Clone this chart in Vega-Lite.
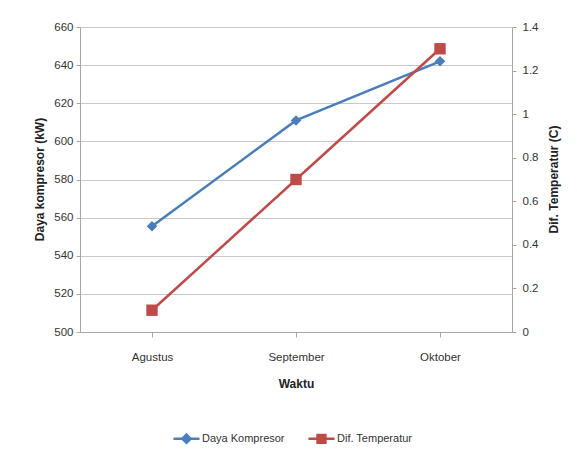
{
  "$schema": "https://vega.github.io/schema/vega-lite/v6.json",
  "width": 432,
  "height": 305,
  "autosize": "none",
  "padding": {"left": 80, "top": 27, "right": 65, "bottom": 128},
  "background": "white",
  "config": {
    "view": {"stroke": null},
    "font": "Liberation Sans, sans-serif",
    "axis": {
      "labelFont": "Liberation Sans, sans-serif",
      "titleFont": "Liberation Sans, sans-serif",
      "labelFontSize": 11.5,
      "labelColor": "#333333",
      "titleFontSize": 12,
      "titleFontWeight": "bold",
      "titleColor": "#222222",
      "domainColor": "#a6a6a6",
      "tickColor": "#a6a6a6",
      "gridColor": "#c8c8c8",
      "tickSize": 4
    },
    "legend": {
      "labelFont": "Liberation Sans, sans-serif",
      "labelFontSize": 11,
      "labelColor": "#333333"
    }
  },
  "data": {
    "values": [
      {"Waktu": "Agustus", "seri": "Daya Kompresor", "nilai": 555.5},
      {"Waktu": "September", "seri": "Daya Kompresor", "nilai": 611},
      {"Waktu": "Oktober", "seri": "Daya Kompresor", "nilai": 642},
      {"Waktu": "Agustus", "seri": "Dif. Temperatur", "nilai": 0.1},
      {"Waktu": "September", "seri": "Dif. Temperatur", "nilai": 0.7},
      {"Waktu": "Oktober", "seri": "Dif. Temperatur", "nilai": 1.3}
    ]
  },
  "encoding": {
    "x": {
      "field": "Waktu",
      "type": "nominal",
      "sort": ["Agustus", "September", "Oktober"],
      "scale": {"paddingInner": 0, "paddingOuter": 0},
      "axis": {
        "title": "Waktu",
        "labelAngle": 0,
        "bandPosition": 0,
        "tickSize": 5,
        "labelPadding": 14,
        "titleY": 51,
        "titleBaseline": "middle",
        "grid": false
      }
    },
    "color": {
      "field": "seri",
      "type": "nominal",
      "scale": {"domain": ["Daya Kompresor", "Dif. Temperatur"], "range": ["#4a7ebb", "#be4b48"]},
      "legend": {
        "title": null,
        "orient": "none",
        "direction": "horizontal",
        "legendX": 92,
        "legendY": 397,
        "symbolSize": 676,
        "columnPadding": 18,
        "labelOffset": 1,
        "encode": {
          "symbols": {
            "update": {
              "shape": {"signal": "datum.value === 'Daya Kompresor' ? 'M-1,0H1M0,-0.32L0.32,0L0,0.32L-0.32,0Z' : 'M-1,0H1M-0.3,-0.3H0.3V0.3H-0.3Z'"},
              "fill": {"scale": "color", "field": "value"},
              "stroke": {"scale": "color", "field": "value"},
              "strokeWidth": {"value": 2.5},
              "fillOpacity": {"value": 1}
            }
          }
        }
      }
    }
  },
  "layer": [
    {
      "transform": [{"filter": "datum.seri === 'Daya Kompresor'"}],
      "encoding": {
        "y": {
          "field": "nilai",
          "type": "quantitative",
          "scale": {"domain": [500, 660], "nice": false, "zero": false},
          "axis": {
            "title": "Daya kompresor (kW)",
            "values": [500, 520, 540, 560, 580, 600, 620, 640, 660],
            "labelPadding": 3,
            "titleX": -41,
            "titleY": 152,
            "titleAngle": 270,
            "titleAlign": "center",
            "titleBaseline": "middle",
            "grid": true
          }
        }
      },
      "layer": [
        {"mark": {"type": "line", "strokeWidth": 2.5}},
        {"mark": {"type": "point", "filled": true, "opacity": 1, "shape": "diamond", "size": 110}}
      ]
    },
    {
      "transform": [{"filter": "datum.seri === 'Dif. Temperatur'"}],
      "encoding": {
        "y": {
          "field": "nilai",
          "type": "quantitative",
          "scale": {"domain": [0, 1.4], "nice": false},
          "axis": {
            "orient": "right",
            "title": "Dif. Temperatur (C)",
            "values": [0, 0.2, 0.4, 0.6, 0.8, 1, 1.2, 1.4],
            "format": "~g",
            "labelPadding": 6,
            "titleX": 41,
            "titleY": 152,
            "titleAngle": 270,
            "titleAlign": "center",
            "titleBaseline": "middle",
            "grid": false
          }
        }
      },
      "layer": [
        {"mark": {"type": "line", "strokeWidth": 2.5}},
        {"mark": {"type": "point", "filled": true, "opacity": 1, "shape": "square", "size": 130}}
      ]
    }
  ],
  "resolve": {"scale": {"y": "independent"}}
}
